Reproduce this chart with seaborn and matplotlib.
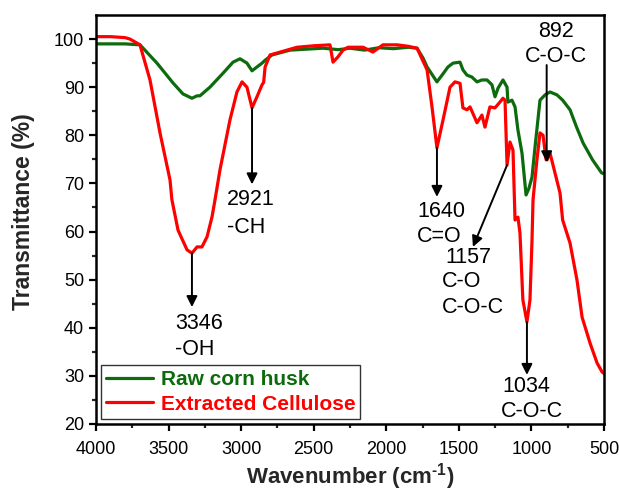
import matplotlib
matplotlib.use("Agg")
import matplotlib.pyplot as plt
import numpy as np
import pandas as pd
import seaborn as sns
from matplotlib.ticker import FixedLocator

# ---------------- data ----------------
raw_wn = [4000, 3900, 3800, 3750, 3697, 3580, 3470, 3401, 3339, 3304, 3284, 3215,
          3125, 3056, 3008, 2960, 2925, 2891, 2856, 2835, 2787, 2663, 2550, 2436,
          2330, 2250, 2150, 2050, 1950, 1850, 1788, 1746, 1719, 1651, 1616, 1575,
          1540, 1492, 1472, 1444, 1410, 1375, 1341, 1306, 1272, 1251, 1230, 1196,
          1168, 1162, 1134, 1113, 1093, 1065, 1037, 1017, 996, 975, 941, 906,
          872, 824, 785, 734, 689, 644, 579, 517, 500]
raw_T = [99.0, 99.0, 99.0, 98.9, 98.8, 95.0, 90.9, 88.6, 87.7, 88.2, 88.2, 90.0,
         92.9, 95.2, 95.9, 95.0, 93.4, 94.2, 95.0, 95.6, 96.7, 97.7, 97.9, 98.1,
         97.8, 98.1, 97.7, 98.2, 98.0, 98.3, 98.1, 96.0, 94.2, 91.1, 92.5, 94.2,
         95.0, 95.2, 93.6, 92.5, 92.1, 91.1, 91.5, 91.5, 90.5, 88.0, 89.8, 91.5,
         90.0, 86.9, 87.3, 85.9, 81.1, 76.3, 67.6, 69.0, 71.3, 77.6, 87.3, 88.4,
         89.0, 88.4, 87.3, 85.3, 81.7, 78.4, 74.9, 72.2, 72.0]

cel_wn = [4000, 3900, 3800, 3766, 3697, 3628, 3559, 3490, 3477, 3435, 3373, 3339,
          3304, 3270, 3235, 3201, 3180, 3146, 3077, 3029, 2994, 2960, 2925, 2891,
          2856, 2845, 2835, 2801, 2753, 2615, 2500, 2388, 2367, 2333, 2298, 2264,
          2160, 2092, 2023, 1926, 1850, 1788, 1719, 1685, 1651, 1609, 1561, 1527,
          1492, 1472, 1444, 1423, 1375, 1341, 1320, 1286, 1251, 1217, 1196, 1182,
          1168, 1148, 1127, 1113, 1093, 1079, 1059, 1031, 1010, 996, 989, 962,
          941, 920, 899, 892, 872, 803, 785, 734, 686, 651, 596, 548, 513, 500]
cel_T = [100.5, 100.5, 100.3, 100.0, 98.8, 91.5, 80.5, 70.7, 66.6, 60.3, 56.2, 55.5,
         56.8, 56.8, 58.9, 63.0, 66.6, 72.8, 83.2, 89.0, 91.1, 90.0, 85.7, 88.0,
         90.5, 91.0, 94.2, 96.7, 97.1, 98.3, 98.6, 98.8, 95.2, 96.3, 97.7, 98.3,
         98.3, 97.3, 98.8, 98.8, 98.5, 98.1, 93.6, 85.9, 77.4, 83.2, 90.0, 91.1,
         90.8, 85.7, 85.3, 85.9, 82.6, 84.2, 81.7, 85.9, 85.7, 86.9, 87.7, 87.3,
         73.8, 78.6, 76.9, 62.4, 63.0, 59.7, 45.8, 41.2, 45.8, 58.2, 66.6, 74.9,
         80.5, 80.0, 74.9, 74.9, 76.3, 68.0, 62.4, 57.6, 49.9, 42.2, 36.8, 32.7, 30.8, 30.5]

series_names = ["Raw corn husk", "Extracted Cellulose"]
series_colors = ["#0c6b0c", "#ff0000"]

# peak annotations: arrow tail (on curve) -> arrow head, plus text lines
peak_tail_x = [3339, 2925, 1651, 1168, 1031, 895]
peak_tail_y = [55.5, 85.7, 77.4, 73.8, 41.2, 94.6]
peak_head_x = [3339, 2925, 1651, 1403, 1031, 895]
peak_head_y = [44.3, 69.8, 67.2, 56.8, 30.2, 74.4]
peak_labels = [["3346", "-OH"], ["2921", "-CH"], ["1640", "C=O"],
               ["1157", "C-O", "C-O-C"], ["1034", "C-O-C"], ["892", "C-O-C"]]
label_x = [[3456, 3456], [3097, 3097], [1788, 1788], [1595, 1616, 1616],
           [1203, 1210], [831, 831]]
label_y = [[40.8, 35.4], [66.6, 60.9], [64.1, 58.9], [54.5, 49.7, 44.3],
           [27.7, 22.5], [101.5, 96.3]]
label_ha = ["left", "left", "left", "left", "left", "center"]

x_ticks = [4000, 3500, 3000, 2500, 2000, 1500, 1000, 500]
x_minor = [3750, 3250, 2750, 2250, 1750, 1250, 750]
y_ticks = [20, 30, 40, 50, 60, 70, 80, 90, 100]
y_minor = [25, 35, 45, 55, 65, 75, 85, 95]

# ---------------- figure ----------------
sns.set_style("ticks")
plt.rcParams["font.family"] = ["Liberation Sans", "DejaVu Sans"]
plt.rcParams["mathtext.fontset"] = "custom"
plt.rcParams["mathtext.rm"] = "Liberation Sans"
plt.rcParams["mathtext.bf"] = "Liberation Sans:bold"

df = pd.concat([
    pd.DataFrame({"Wavenumber": raw_wn, "T": raw_T, "Sample": series_names[0]}),
    pd.DataFrame({"Wavenumber": cel_wn, "T": cel_T, "Sample": series_names[1]}),
], ignore_index=True)

fig = plt.figure(figsize=(6.19, 4.92), dpi=100)
ax = fig.add_axes([96 / 619, 68 / 492, 508 / 619, (424 - 15) / 492])

sns.lineplot(data=df, x="Wavenumber", y="T", hue="Sample", hue_order=series_names,
             palette=dict(zip(series_names, series_colors)), sort=False,
             estimator=None, linewidth=2.3, ax=ax)

ax.set_xlim(4000, 500)
ax.set_ylim(20, 105)
ax.xaxis.set_major_locator(FixedLocator(x_ticks))
ax.xaxis.set_minor_locator(FixedLocator(x_minor))
ax.yaxis.set_major_locator(FixedLocator(y_ticks))
ax.yaxis.set_minor_locator(FixedLocator(y_minor))
ax.tick_params(which="major", direction="out", length=5, width=1.6, labelsize=13,
               colors="black")
ax.tick_params(axis="x", which="major", pad=7)
ax.tick_params(which="minor", direction="out", length=3, width=1.6)
for s in ax.spines.values():
    s.set_linewidth(1.8)
    s.set_color("black")

ax.set_xlabel("Wavenumber (cm$^{\\mathbf{\u2010}\\mathbf{1}}$)", fontsize=16, fontweight="bold")
ax.xaxis.set_label_coords(0.5, -0.09)
ax.set_ylabel("Transmittance (%)", fontsize=16.5, fontweight="bold")
ax.yaxis.set_label_coords(-0.12, 0.5 + (216 - 208) / 409)

for i in range(len(peak_labels)):
    ax.annotate("", xy=(peak_head_x[i], peak_head_y[i]),
                xytext=(peak_tail_x[i], peak_tail_y[i]),
                arrowprops=dict(arrowstyle="-|>", color="black", lw=1.4,
                                mutation_scale=16, shrinkA=0, shrinkB=0))
    for j, line in enumerate(peak_labels[i]):
        ax.text(label_x[i][j], label_y[i][j], line, ha=label_ha[i], va="center",
                fontsize=15.5, color="black")

leg = ax.legend(loc="lower left", frameon=True, fancybox=False, edgecolor="black",
                borderaxespad=0.25, handlelength=2.25, handletextpad=0.35,
                borderpad=0.25, labelspacing=0.25,
                prop={"weight": "bold", "size": 15})
leg.get_frame().set_linewidth(1.0)
for txt, c in zip(leg.get_texts(), series_colors):
    txt.set_color(c)

fig.savefig("out.png", dpi=100)
